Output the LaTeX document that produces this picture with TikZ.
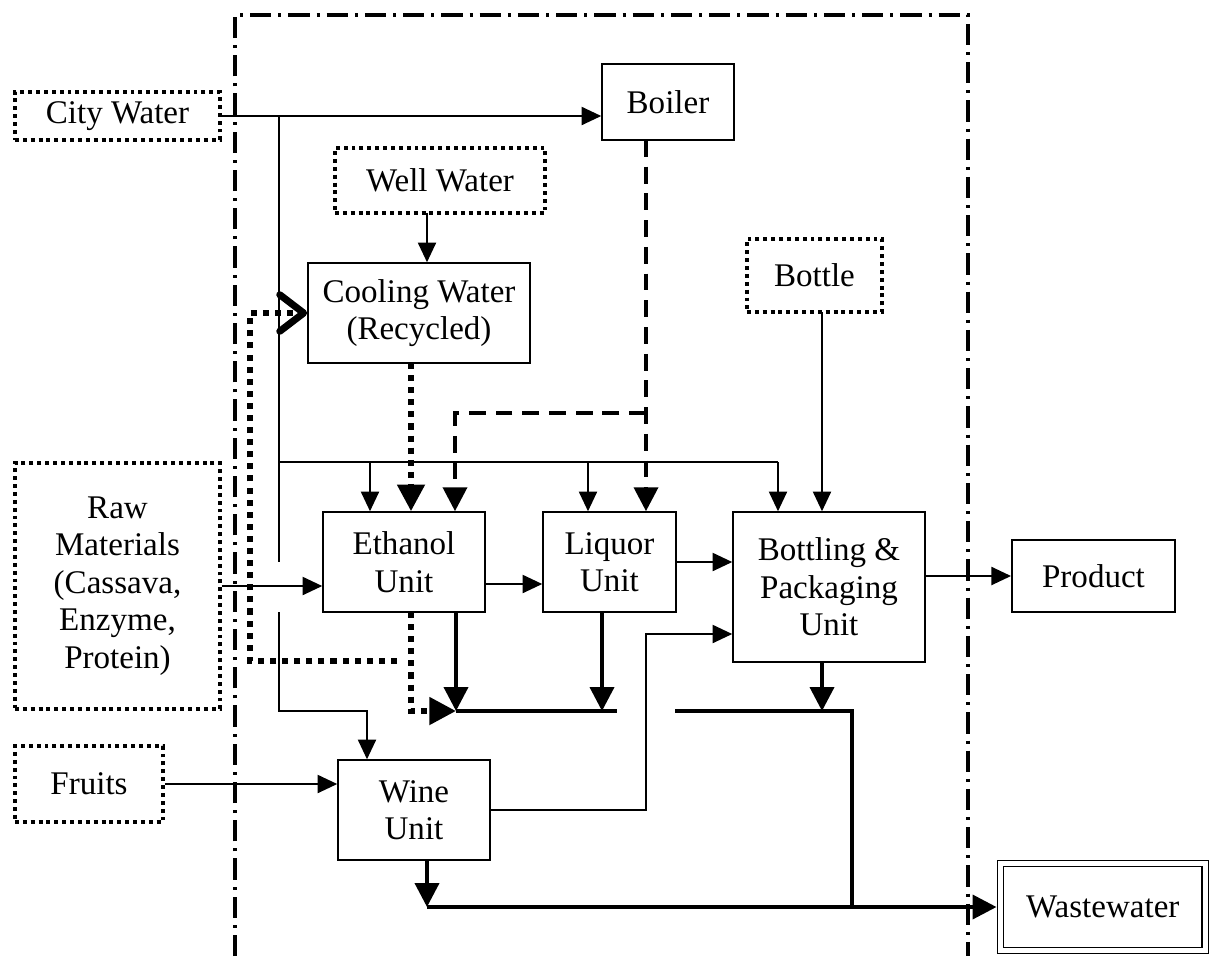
\documentclass[tikz,border=0pt]{standalone}
\usepackage{fontspec}
\setmainfont{Liberation Serif}
\usetikzlibrary{arrows.meta}

\begin{document}
\begin{tikzpicture}[x=0.025cm,y=-0.025cm,
	font=\fontsize{23.5}{26.6}\selectfont,
	unit/.style={draw,line width=1.1pt,align=center,inner sep=0pt},
	source/.style={draw,line width=2.8pt,dash pattern=on 2.8pt off 2.8pt,align=center,inner sep=0pt},
	flow/.style={line width=1pt,-{Triangle[length=14pt,width=13pt]}},
	waste/.style={line width=2.8pt,-{Triangle[length=17pt,width=17pt]}},
	steam/.style={line width=2.8pt,dash pattern=on 12pt off 7pt,-{Triangle[length=17pt,width=17pt]}},
	cool/.style={line width=4.2pt,dash pattern=on 4.3pt off 4.3pt,-{Triangle[length=19pt,width=19pt]}},
	recyc/.style={line width=4.2pt,dash pattern=on 4.3pt off 4.3pt,-{Straight Barb[length=17pt,width=26pt,line width=5pt,round]}},
	boundary/.style={line width=2.8pt,dash pattern=on 15pt off 5pt on 2.2pt off 5pt}]
	\useasboundingbox (0,0) rectangle (1210,956);
	% plant boundary
	\draw[boundary] (235,956) -- (235,15) -- (968,15) -- (968,956);
	% inputs
	\node[source,minimum width=5.125cm,minimum height=1.2cm] (city) at (117.5,116) {City Water};
	\node[source,minimum width=5.25cm,minimum height=1.625cm] (well) at (440,180.5) {Well Water};
	\node[source,minimum width=3.375cm,minimum height=1.825cm] (bottle) at (814.5,275.5) {Bottle};
	\node[source,minimum width=5.125cm,minimum height=6.15cm] (raw) at (117.5,586) {Raw\\Materials\\(Cassava,\\Enzyme,\\Protein)};
	\node[source,minimum width=3.7cm,minimum height=1.9cm] (fruits) at (89,784) {Fruits};
	% units
	\node[unit,minimum width=3.3cm,minimum height=1.9cm] (boiler) at (668,102) {Boiler};
	\node[unit,minimum width=5.55cm,minimum height=2.5cm] (coolw) at (419,313) {Cooling Water\\(Recycled)};
	\node[unit,minimum width=4.05cm,minimum height=2.5cm] (eth) at (404,562) {Ethanol\\Unit};
	\node[unit,minimum width=3.325cm,minimum height=2.5cm] (liq) at (609.5,562) {Liquor\\Unit};
	\node[unit,minimum width=4.8cm,minimum height=3.75cm] (bot) at (829,587) {Bottling \&\\Packaging\\Unit};
	\node[unit,minimum width=3.8cm,minimum height=2.5cm] (wine) at (414,810) {Wine\\Unit};
	% outputs
	\node[unit,line width=1.4pt,minimum width=4.075cm,minimum height=1.8cm] (prod) at (1093.5,576) {Product};
	\node[draw,double,double distance=3.5pt,line width=0.8pt,minimum width=5.11cm,minimum height=2.17cm] (waste) at (1102.8,907) {Wastewater};
	% city water
	\coordinate (tap) at (279,116);
	\coordinate (hdr) at (279,462);
	\coordinate (gapT) at (279,562);
	\coordinate (gapB) at (279,612);
	\coordinate (wtap) at (279,711);
	\coordinate (wdrop) at (367,711);
	\coordinate (hdrE) at (370,462);
	\coordinate (hdrL) at (588,462);
	\coordinate (hdrB) at (778,462);
	\draw[flow] (city.east) -- (city.east -| boiler.west);
	\draw[line width=1pt] (tap) -- (gapT);
	\draw[flow] (gapB) -- (wtap) -- (wdrop) -- (wdrop |- wine.north);
	\draw[line width=1pt] (hdr) -- (hdrB);
	\draw[flow] (hdrE) -- (hdrE |- eth.north);
	\draw[flow] (hdrL) -- (hdrL |- liq.north);
	\draw[flow] (hdrB) -- (hdrB |- bot.north);
	% well water and cooling
	\coordinate (wellout) at (427,213);
	\coordinate (coolout) at (411,363);
	\draw[flow] (wellout) -- (wellout |- coolw.north);
	\draw[cool] (coolout) -- (coolout |- eth.north);
	% steam
	\coordinate (steamout) at (646,140);
	\coordinate (steamsplit) at (646,413);
	\coordinate (steamE) at (455,413);
	\draw[steam] (steamout) -- (steamout |- liq.north);
	\draw[steam] (steamsplit) -- (steamE) -- (steamE |- eth.north);
	% products
	\coordinate (botin) at (822,312);
	\coordinate (e2l) at (485,584);
	\coordinate (wbend) at (646,634);
	\draw[flow] (botin) -- (botin |- bot.north);
	\draw[flow] (raw.east) -- (raw.east -| eth.west);
	\draw[flow] (e2l) -- (e2l -| liq.west);
	\draw[flow] (liq.east) -- (liq.east -| bot.west);
	\draw[flow] (prod.west -| bot.east) -- (prod.west);
	\draw[flow] (fruits.east) -- (fruits.east -| wine.west);
	\draw[flow] (wine.east) -- (wine.east -| wbend) -- (wbend) -- (wbend -| bot.west);
	% wastewater
	\coordinate (ewaste) at (456,612);
	\coordinate (lwaste) at (602,612);
	\coordinate (bwaste) at (822,662);
	\coordinate (wwaste) at (427,860);
	\coordinate (colA) at (456,711);
	\coordinate (colB) at (617,711);
	\coordinate (colC) at (675,711);
	\coordinate (colD) at (852,711);
	\draw[waste] (ewaste) -- (colA);
	\draw[waste] (lwaste) -- (lwaste |- colA);
	\draw[line width=2.8pt] (colA) -- (colB);
	\draw[waste] (bwaste) -- (bwaste |- colD);
	\draw[line width=2.8pt] (colC) -- (colD) -- (colD |- waste.west);
	\draw[waste] (wwaste) -- (wwaste |- waste.west);
	\draw[waste,shorten >=2.5pt] (wwaste |- waste.west) -- (waste.west);
	% recycled cooling water
	\coordinate (cret) at (411,612);
	\coordinate (rA) at (397,661);
	\coordinate (rB) at (250,661);
	\draw[cool] (cret) -- (cret |- colA) -- (colA);
	\draw[recyc] (rA) -- (rB) -- (rB |- coolw.west) -- (coolw.west);
\end{tikzpicture}
\end{document}
